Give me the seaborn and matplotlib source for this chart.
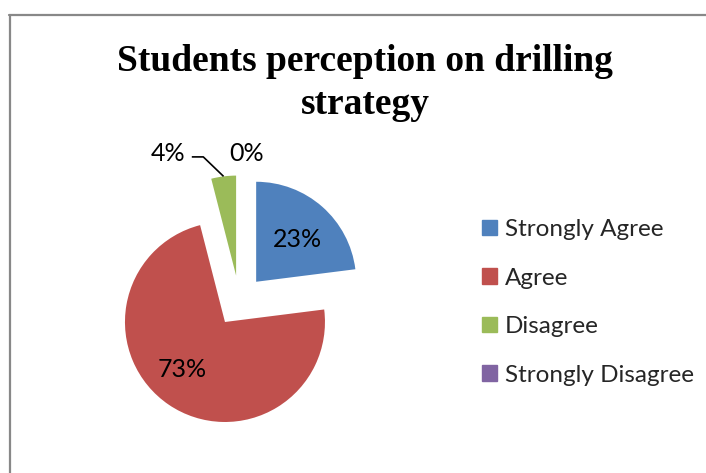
import matplotlib
matplotlib.use("Agg")
import matplotlib.pyplot as plt
from matplotlib.lines import Line2D
import seaborn as sns
import numpy as np

title = "Students perception on drilling\nstrategy"
categories = ["Strongly Agree", "Agree", "Disagree", "Strongly Disagree"]
percent = [23, 73, 4, 0]
colors = ["#4F81BD", "#C0504D", "#9BBB59", "#8064A2"]

sns.set_theme(style="white")
plt.rcParams["font.family"] = ["Lato", "DejaVu Sans"]

W, H = 706, 473
fig = plt.figure(figsize=(W / 100, H / 100), dpi=100)
fig.patch.set_facecolor("white")

# chart-area frame (left and top edges visible)
frame = fig.add_axes([0, 0, 1, 1])
frame.set_xlim(0, W)
frame.set_ylim(H, 0)
frame.axis("off")
frame.add_line(Line2D([9.5, 9.5], [15, H + 5], color="#888888", lw=1.6))
frame.add_line(Line2D([9, W + 5], [15, 15], color="#888888", lw=1.6))

fig.text(365 / W, 1 - 83 / H, title, ha="center", va="center",
         family="Liberation Serif", fontweight="bold", fontsize=27,
         linespacing=1.33, color="black")

# pie axes: 1 data unit = 100 px, centred on the pie centre
cx, cy = 239.3, H - 300.9
half = 125
ax = fig.add_axes([(cx - half) / W, (cy - half) / H, 2 * half / W, 2 * half / H])
pal = sns.color_palette(colors)
wedges, texts, autotexts = ax.pie(
    percent, colors=pal, startangle=90, counterclock=False,
    explode=[0.255] * len(percent), radius=1.0,
    autopct=lambda p: f"{p:.0f}%", pctdistance=0.6,
    textprops=dict(fontsize=18, color="black"),
    wedgeprops=dict(linewidth=0),
)
ax.set_xlim(-1.25, 1.25)
ax.set_ylim(-1.25, 1.25)
ax.set_aspect("auto")
ax.axis("off")

# label placement
label_pos = {0: (0.585, 0.61), 1: (-0.575, -0.69), 2: (-0.713, 1.475), 3: (0.077, 1.475)}
for i, t in enumerate(autotexts):
    t.set_position(label_pos[i])
    t.set_ha("center")
    t.set_va("center")

# leader line for the small slice
w = wedges[2]
mid = np.deg2rad((w.theta1 + w.theta2) / 2)
ex, ey = w.center[0] + w.r * np.cos(mid), w.center[1] + w.r * np.sin(mid)
ax.plot([-0.475, -0.36, ex], [1.44, 1.44, ey], color="black", lw=1.2,
        clip_on=False, solid_capstyle="butt")

handles = [plt.Rectangle((0, 0), 1, 1, color=c) for c in colors]
fig.legend(handles, categories, loc="center left",
           bbox_to_anchor=(482 / W, 1 - 302.5 / H), frameon=False,
           fontsize=17.5, handlelength=0.6, handleheight=0.6,
           handletextpad=0.35, labelspacing=1.13, borderpad=0, borderaxespad=0)

fig.savefig("out.png", dpi=100, facecolor="white")
